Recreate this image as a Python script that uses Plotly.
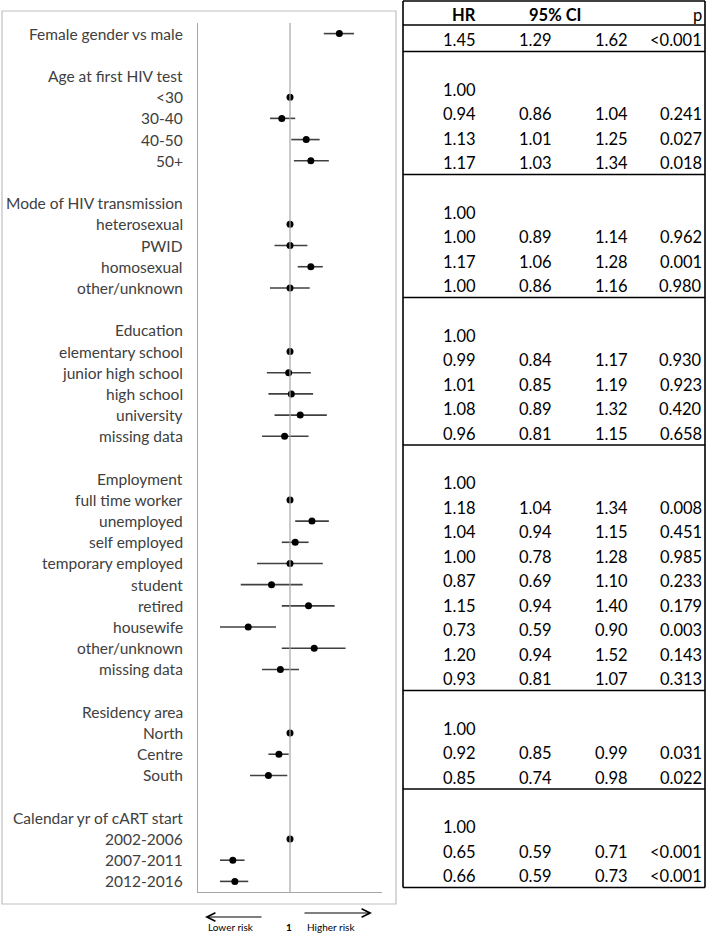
import plotly.graph_objects as go
import math

W, H = 709, 935

# ---------------- data ----------------
row_labels = [
    "Female gender vs male", "",
    "Age at first HIV test", "<30", "30-40", "40-50", "50+", "",
    "Mode of HIV transmission", "heterosexual", "PWID", "homosexual", "other/unknown", "",
    "Education", "elementary school", "junior high school", "high school", "university", "missing data", "",
    "Employment", "full time worker", "unemployed", "self employed", "temporary employed", "student",
    "retired", "housewife", "other/unknown", "missing data", "",
    "Residency area", "North", "Centre", "South", "",
    "Calendar yr of cART start", "2002-2006", "2007-2011", "2012-2016",
]
hr = [1.45, None,
      None, 1.00, 0.94, 1.13, 1.17, None,
      None, 1.00, 1.00, 1.17, 1.00, None,
      None, 1.00, 0.99, 1.01, 1.08, 0.96, None,
      None, 1.00, 1.18, 1.04, 1.00, 0.87, 1.15, 0.73, 1.20, 0.93, None,
      None, 1.00, 0.92, 0.85, None,
      None, 1.00, 0.65, 0.66]
ci_lo = [1.29, None,
         None, None, 0.86, 1.01, 1.03, None,
         None, None, 0.89, 1.06, 0.86, None,
         None, None, 0.84, 0.85, 0.89, 0.81, None,
         None, None, 1.04, 0.94, 0.78, 0.69, 0.94, 0.59, 0.94, 0.81, None,
         None, None, 0.85, 0.74, None,
         None, None, 0.59, 0.59]
ci_hi = [1.62, None,
         None, None, 1.04, 1.25, 1.34, None,
         None, None, 1.14, 1.28, 1.16, None,
         None, None, 1.17, 1.19, 1.32, 1.15, None,
         None, None, 1.34, 1.15, 1.28, 1.10, 1.40, 0.90, 1.52, 1.07, None,
         None, None, 0.99, 0.98, None,
         None, None, 0.71, 0.73]
p_values = ["<0.001", None,
            None, None, "0.241", "0.027", "0.018", None,
            None, None, "0.962", "0.001", "0.980", None,
            None, None, "0.930", "0.923", "0.420", "0.658", None,
            None, None, "0.008", "0.451", "0.985", "0.233", "0.179", "0.003", "0.143", "0.313", None,
            None, None, "0.031", "0.022", None,
            None, None, "<0.001", "<0.001"]
table_header = ["HR", "95% CI", "p"]
x_range = [0.5, 2.0]

# ---------------- figure ----------------
fig = go.Figure()

idx = [i for i, v in enumerate(hr) if v is not None]
px_ = [hr[i] for i in idx]
err_p = [(ci_hi[i] - hr[i]) if ci_hi[i] is not None else 0 for i in idx]
err_m = [(hr[i] - ci_lo[i]) if ci_lo[i] is not None else 0 for i in idx]

fig.add_trace(go.Scatter(
    x=px_, y=idx, mode="markers",
    marker=dict(color="black", size=7),
    error_x=dict(type="data", symmetric=False, array=err_p, arrayminus=err_m,
                 width=0, thickness=1.6, color="#404040"),
    xaxis="x", yaxis="y", showlegend=False, hoverinfo="skip",
))

FONT = "Lato"
ann = []
for i, lab in enumerate(row_labels):
    if lab:
        ann.append(dict(text=lab, x=185 / W, xref="paper", y=i, yref="y",
                        xanchor="right", yanchor="middle", showarrow=False,
                        font=dict(family=FONT, size=15.5, color="#404040")))

# ---- table (pixel coordinate axes x2/y2) ----
col_right = [478, 554, 630, 704]
pitch, gap, tail = 24.5, 38, 11.5
header_y, header_line = 15, 25
tbl_lines = [1, header_line]

blocks, cur = [], []
for i, lab in enumerate(row_labels):
    if lab == "":
        blocks.append(cur); cur = []
    else:
        cur.append(i)
blocks.append(cur)

y_prev_line = header_line
for b, rows in enumerate(blocks):
    vals = [i for i in rows if hr[i] is not None]
    y = y_prev_line + (15 if b == 0 else gap)
    for k, i in enumerate(vals):
        yy = y + k * pitch
        cells = [f"{hr[i]:.2f}",
                 f"{ci_lo[i]:.2f}" if ci_lo[i] is not None else "",
                 f"{ci_hi[i]:.2f}" if ci_hi[i] is not None else "",
                 p_values[i] or ""]
        for c, s in enumerate(cells):
            if s:
                ann.append(dict(text=s, x=col_right[c], xref="x2", y=yy, yref="y2",
                                xanchor="right", yanchor="middle", showarrow=False,
                                font=dict(family=FONT, size=16.5, color="black")))
    last = y + (len(vals) - 1) * pitch
    y_prev_line = last + tail
    tbl_lines.append(y_prev_line)

ann.append(dict(text="<b>%s</b>" % table_header[0], x=col_right[0], xref="x2", y=header_y, yref="y2",
                xanchor="right", yanchor="middle", showarrow=False,
                font=dict(family=FONT, size=16.5, color="black")))
ann.append(dict(text="<b>%s</b>" % table_header[1], x=527, xref="x2", y=header_y, yref="y2",
                xanchor="left", yanchor="middle", showarrow=False,
                font=dict(family=FONT, size=16.5, color="black")))
ann.append(dict(text=table_header[2], x=col_right[3], xref="x2", y=header_y, yref="y2",
                xanchor="right", yanchor="middle", showarrow=False,
                font=dict(family=FONT, size=16.5, color="black")))

shapes = []
tbl_left, tbl_right = 403, 705
for yl in tbl_lines:
    shapes.append(dict(type="line", xref="x2", yref="y2", x0=tbl_left, x1=tbl_right, y0=yl, y1=yl,
                       line=dict(color="black", width=1.6)))
for xl in (tbl_left, tbl_right):
    shapes.append(dict(type="line", xref="x2", yref="y2", x0=xl, x1=xl, y0=tbl_lines[0], y1=tbl_lines[-1],
                       line=dict(color="black", width=1.6)))

# chart-area border
shapes.append(dict(type="rect", xref="x2", yref="y2", x0=2, x1=396, y0=11, y1=904,
                   line=dict(color="#bfbfbf", width=1.2)))
# reference line at HR = 1
shapes.append(dict(type="line", xref="x", yref="y domain", x0=1, x1=1, y0=0, y1=1,
                   line=dict(color="#a6a6a6", width=1.2)))

# arrows and labels below axis
ann.append(dict(text="", x=205, y=917, xref="x2", yref="y2", ax=263, ay=917, axref="x2", ayref="y2",
                showarrow=True, arrowhead=5, arrowsize=1.4, arrowwidth=1.2, arrowcolor="black"))
ann.append(dict(text="", x=372, y=913, xref="x2", yref="y2", ax=303, ay=913, axref="x2", ayref="y2",
                showarrow=True, arrowhead=5, arrowsize=1.4, arrowwidth=1.2, arrowcolor="black"))
for s, xx, bold in (("Lower risk", 231, False), ("1", 289, True), ("Higher risk", 331, False)):
    ann.append(dict(text=("<b>%s</b>" % s) if bold else s, x=xx, y=927, xref="x2", yref="y2",
                    xanchor="center", yanchor="middle", showarrow=False,
                    font=dict(family=FONT, size=10, color="black")))

fig.add_trace(go.Scatter(x=[0], y=[0], xaxis="x2", yaxis="y2", mode="markers",
                         marker=dict(opacity=0), showlegend=False, hoverinfo="skip"))

fig.update_layout(
    width=W, height=H, margin=dict(l=0, r=0, t=0, b=0),
    paper_bgcolor="white", plot_bgcolor="rgba(0,0,0,0)",
    xaxis=dict(type="log", range=[math.log10(x_range[0]), math.log10(x_range[1])],
               domain=[198 / W, 382 / W], showline=True, linecolor="#a6a6a6", linewidth=1.2,
               showgrid=False, zeroline=False, showticklabels=False, ticks="", anchor="y"),
    yaxis=dict(range=[len(row_labels) - 0.5, -0.5], domain=[1 - 892 / H, 1 - 23 / H],
               showline=True, linecolor="#a6a6a6", linewidth=1.2,
               showgrid=False, zeroline=False, showticklabels=False, ticks="", anchor="x"),
    xaxis2=dict(range=[0, W], domain=[0, 1], visible=False, anchor="y2"),
    yaxis2=dict(range=[H, 0], domain=[0, 1], visible=False, anchor="x2"),
    annotations=ann, shapes=shapes, showlegend=False,
)
fig.write_html("out.html", config={"displayModeBar": False},
               post_script="document.body.style.margin='0';document.body.style.overflow='hidden';")
